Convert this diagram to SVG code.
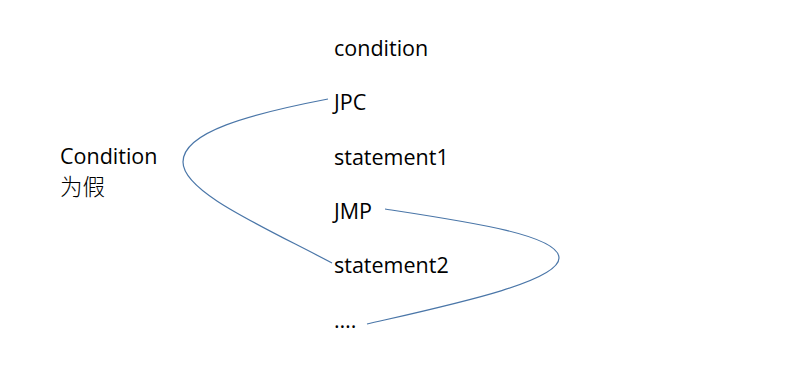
<svg xmlns="http://www.w3.org/2000/svg" width="794" height="373" viewBox="0 0 794 373">
  <style>
    .t { font-family: "Open Sans", "Noto Sans CJK SC", sans-serif; font-size: 21.5px; fill: #000; }
    .cjk { font-family: "Noto Sans CJK SC", sans-serif; font-size: 22.5px; font-weight: 300; }
    .c { fill: none; stroke: #4a76a8; stroke-width: 1.2; }
  </style>
  <rect width="794" height="373" fill="#fff"/>
  <g id="connectors">
    <path class="c" d="M328,99 C250,114 183,132 183,162 C183,192 262,226 332,263"/>
    <path class="c" d="M385,209 C470,222 559,235 559,258 C559,282 450,305 367,324"/>
  </g>
  <g id="n-condition"><text class="t" x="334" y="56">condition</text></g>
  <g id="n-jpc"><text class="t" x="334" y="110">JPC</text></g>
  <g id="n-statement1"><text class="t" x="334" y="165">statement1</text></g>
  <g id="n-jmp"><text class="t" x="334" y="219">JMP</text></g>
  <g id="n-statement2"><text class="t" x="334" y="273">statement2</text></g>
  <g id="n-dots"><text class="t" x="334" y="328">….</text></g>
  <g id="n-false">
    <text class="t" x="60" y="164">Condition</text>
    <text class="t cjk" x="60" y="195">为假</text>
  </g>
</svg>
